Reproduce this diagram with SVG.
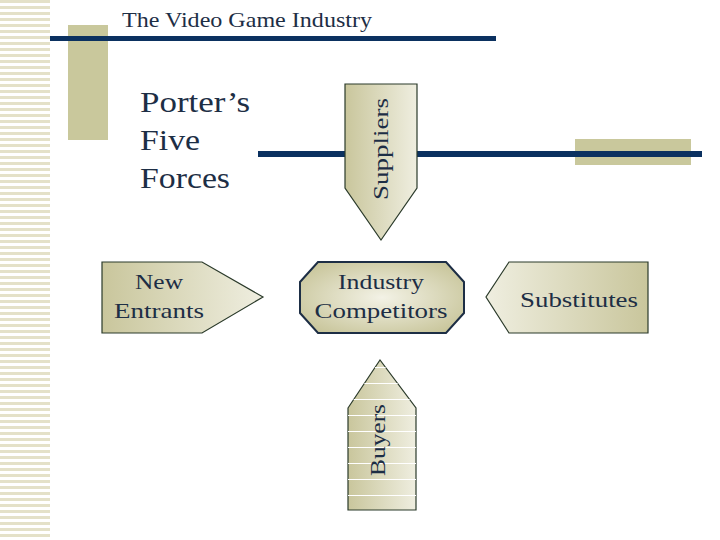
<svg xmlns="http://www.w3.org/2000/svg" width="720" height="540" viewBox="0 0 720 540">
<defs>
<pattern id="stripes" width="50" height="6" patternUnits="userSpaceOnUse"><rect width="50" height="3" fill="#e4e1c8"/></pattern>
<linearGradient id="gh" x1="0" y1="0" x2="1" y2="0"><stop offset="0" stop-color="#c9c69c"/><stop offset="1" stop-color="#efeee0"/></linearGradient>
<linearGradient id="gs" x1="0" y1="0" x2="1" y2="0"><stop offset="0" stop-color="#efeee0"/><stop offset="1" stop-color="#c9c69c"/></linearGradient>
<radialGradient id="gc" cx="0.5" cy="0.5" r="0.6"><stop offset="0" stop-color="#f3f2e6"/><stop offset="1" stop-color="#c9c69c"/></radialGradient>
<pattern id="bstripe" width="80" height="16" patternUnits="userSpaceOnUse"><rect y="15" width="80" height="1" fill="#ffffff"/></pattern>
</defs>
<style>
.t{font-family:"Liberation Serif","Times New Roman",serif;fill:#1d2e45}
.nav{fill:#0b3160}
.tan{fill:#c9c89c}
.sh{stroke:#2a3a2a;stroke-width:1.2}
</style>
<rect width="720" height="540" fill="#fff"/>
<rect x="0" y="0" width="50" height="540" fill="url(#stripes)"/>
<rect class="tan" x="68" y="25" width="40" height="115"/>
<rect class="nav" x="50" y="36" width="446" height="5"/>
<rect class="tan" x="575" y="139" width="116" height="26"/>
<rect class="nav" x="258" y="151" width="444" height="6"/>
<text class="t" x="122" y="27" font-size="21" textLength="250" lengthAdjust="spacingAndGlyphs">The Video Game Industry</text>
<text class="t" font-size="30"><tspan x="140" y="112" textLength="110" lengthAdjust="spacingAndGlyphs">Porter’s</tspan><tspan x="140" y="150" textLength="60" lengthAdjust="spacingAndGlyphs">Five</tspan><tspan x="140" y="188" textLength="90" lengthAdjust="spacingAndGlyphs">Forces</tspan></text>
<g id="suppliers"><path class="sh" d="M345 84H417V188L381 240L345 188Z" fill="url(#gh)"/><text class="t" font-size="22" transform="translate(388,200) rotate(-90)" textLength="102" lengthAdjust="spacingAndGlyphs">Suppliers</text></g>
<g id="new-entrants"><path class="sh" d="M102 262H202L263 297L202 333H102Z" fill="url(#gh)"/><text class="t" font-size="22" text-anchor="middle"><tspan x="159" y="289" textLength="48" lengthAdjust="spacingAndGlyphs">New</tspan><tspan x="159" y="318" textLength="90" lengthAdjust="spacingAndGlyphs">Entrants</tspan></text></g>
<g id="industry"><path stroke="#1d2e45" stroke-width="2" d="M318 262H446L464 282V313L446 333H318L300 313V282Z" fill="url(#gc)"/><text class="t" font-size="22" text-anchor="middle"><tspan x="381" y="289" textLength="86" lengthAdjust="spacingAndGlyphs">Industry</tspan><tspan x="381" y="318" textLength="133" lengthAdjust="spacingAndGlyphs">Competitors</tspan></text></g>
<g id="substitutes"><path class="sh" d="M509 262H648V333H509L486 297Z" fill="url(#gs)"/><text class="t" font-size="22" x="579" y="307" text-anchor="middle" textLength="118" lengthAdjust="spacingAndGlyphs">Substitutes</text></g>
<g id="buyers"><path class="sh" d="M348 408L380 360L416 408V510H348Z" fill="url(#gh)"/><path d="M348 408L380 360L416 408V510H348Z" fill="url(#bstripe)"/><text class="t" font-size="22" transform="translate(385,476) rotate(-90)" textLength="72" lengthAdjust="spacingAndGlyphs">Buyers</text></g>
<g id="connectors"/>
</svg>
